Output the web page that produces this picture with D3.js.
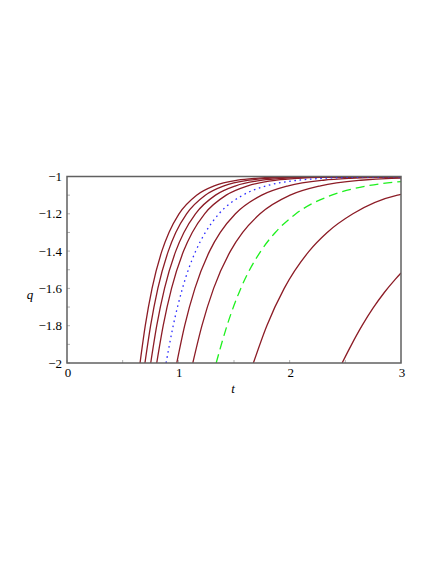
<!DOCTYPE html>
<html><head><meta charset="utf-8">
<script src="https://cdn.jsdelivr.net/npm/d3@7"></script>
<style>body{margin:0;background:#fff} text{font-family:"Liberation Serif","DejaVu Serif","Times New Roman",serif;}</style>
</head><body>
<svg id="c" width="437" height="565"></svg>
<script>
// axis ticks
const xTicks = [0, 1, 2, 3];
const xMinor = [0.5, 1.5, 2.5];
const yTicks = [-2, -1.8, -1.6, -1.4, -1.2, -1];
const yTickLabels = ["\u22122", "\u22121.8", "\u22121.6", "\u22121.4", "\u22121.2", "\u22121"];
const yMinor = [-1.9, -1.7, -1.5, -1.3, -1.1];

// curves (t values and q values)
const qLevels = [-2, -1.8, -1.6, -1.4, -1.3, -1.2, -1.1, -1.05, -1.02, -1.01, -1.005];
const tRed1 = [0.656, 0.703, 0.764, 0.852, 0.916, 1.006, 1.164, 1.322, 1.532, 1.691, 1.851, 3];
const qRed1 = [...qLevels, -1.0];
const tRed2 = [0.700, 0.751, 0.816, 0.910, 0.977, 1.074, 1.242, 1.410, 1.635, 1.805, 1.975, 3];
const qRed2 = [...qLevels, -1.0];
const tRed3 = [0.752, 0.806, 0.876, 0.977, 1.050, 1.154, 1.334, 1.515, 1.756, 1.939, 2.122, 3];
const qRed3 = [...qLevels, -1.001];
const tRed4 = [0.806, 0.864, 0.939, 1.047, 1.125, 1.236, 1.430, 1.624, 1.882, 2.078, 2.274, 3];
const qRed4 = [...qLevels, -1.001];
const tBlue = [0.890, 0.954, 1.037, 1.156, 1.243, 1.365, 1.579, 1.793, 2.078, 2.295, 2.511, 3];
const qBlue = [...qLevels, -1.002];
const tRed5 = [0.986, 1.057, 1.149, 1.281, 1.377, 1.513, 1.749, 1.987, 2.303, 2.542, 2.782, 3];
const qRed5 = [...qLevels, -1.003];
const tRed6 = [1.130, 1.212, 1.317, 1.468, 1.578, 1.734, 2.004, 2.277, 2.639, 2.914, 3];
const qRed6 = [-2, -1.8, -1.6, -1.4, -1.3, -1.2, -1.1, -1.05, -1.02, -1.01, -1.009];
const tGreen = [1.340, 1.437, 1.561, 1.741, 1.871, 2.056, 2.377, 2.700, 3];
const qGreen = [-2, -1.8, -1.6, -1.4, -1.3, -1.2, -1.1, -1.05, -1.027];
const tRed7 = [1.674, 1.795, 1.951, 2.175, 2.337, 2.568, 2.969, 3];
const qRed7 = [-2, -1.8, -1.6, -1.4, -1.3, -1.2, -1.1, -1.096];
const tRed8 = [2.471, 2.55, 2.65, 2.75, 2.85, 2.95, 3];
const qRed8 = [-2, -1.908, -1.8, -1.705, -1.622, -1.55, -1.517];

const RED = "#8c1c26", BLUE = "#2a2aff", GREEN = "#1ef01e";
const series = [
  {t: tRed1, q: qRed1, c: RED, d: null},
  {t: tRed2, q: qRed2, c: RED, d: null},
  {t: tRed3, q: qRed3, c: RED, d: null},
  {t: tRed4, q: qRed4, c: RED, d: null},
  {t: tRed5, q: qRed5, c: RED, d: null},
  {t: tRed6, q: qRed6, c: RED, d: null},
  {t: tRed7, q: qRed7, c: RED, d: null},
  {t: tRed8, q: qRed8, c: RED, d: null},
  {t: tGreen, q: qGreen, c: GREEN, d: "9,5"},
  {t: tBlue, q: qBlue, c: BLUE, d: "1.6,3.6"}
];

const svg = d3.select("#c");
const L = 67, R = 401, T = 176.5, B = 363;
const x = d3.scaleLinear().domain([0, 3]).range([L, R]);
const y = d3.scaleLinear().domain([-2, -1]).range([B, T]);

svg.append("defs").append("clipPath").attr("id", "clip")
  .append("rect").attr("x", L).attr("y", T).attr("width", R - L).attr("height", B - T);

// minor / major ticks inside the frame
const tickCol = "#b0b0b0";
const g = svg.append("g");
xTicks.concat(xMinor).forEach(v => {
  g.append("line").attr("x1", x(v)).attr("x2", x(v)).attr("y1", B).attr("y2", B - 3)
    .attr("stroke", tickCol).attr("stroke-width", 1);
});
yTicks.concat(yMinor).forEach(v => {
  g.append("line").attr("x1", L).attr("x2", L + 3).attr("y1", y(v)).attr("y2", y(v))
    .attr("stroke", tickCol).attr("stroke-width", 1);
});

// curves
const line = d3.line().x(d => x(d[0])).y(d => y(d[1])).curve(d3.curveMonotoneX);
const cg = svg.append("g").attr("clip-path", "url(#clip)");
series.forEach(s => {
  const pts = s.t.map((tv, i) => [tv, s.q[i]]);
  const p = cg.append("path").attr("d", line(pts)).attr("fill", "none")
    .attr("stroke", s.c).attr("stroke-width", 1.3);
  if (s.d) p.attr("stroke-dasharray", s.d);
});

// frame
svg.append("rect").attr("x", L).attr("y", T).attr("width", R - L).attr("height", B - T)
  .attr("fill", "none").attr("stroke", "#606060").attr("stroke-width", 1.5);

// tick labels
xTicks.forEach(v => {
  svg.append("text").attr("x", x(v) + 1).attr("y", 377).attr("text-anchor", "middle")
    .attr("font-size", 13).attr("fill", "#000").text(v);
});
yTicks.forEach((v, i) => {
  svg.append("text").attr("x", 62).attr("y", y(v) + 4.5).attr("text-anchor", "end")
    .attr("font-size", 13).attr("fill", "#000").text(yTickLabels[i]);
});

// axis titles
svg.append("text").attr("x", 233).attr("y", 393).attr("text-anchor", "middle")
  .attr("font-style", "italic").attr("font-size", 13).text("t");
svg.append("text").attr("x", 30).attr("y", 299).attr("text-anchor", "middle")
  .attr("font-style", "italic").attr("font-size", 13).text("q");
</script>
</body></html>
